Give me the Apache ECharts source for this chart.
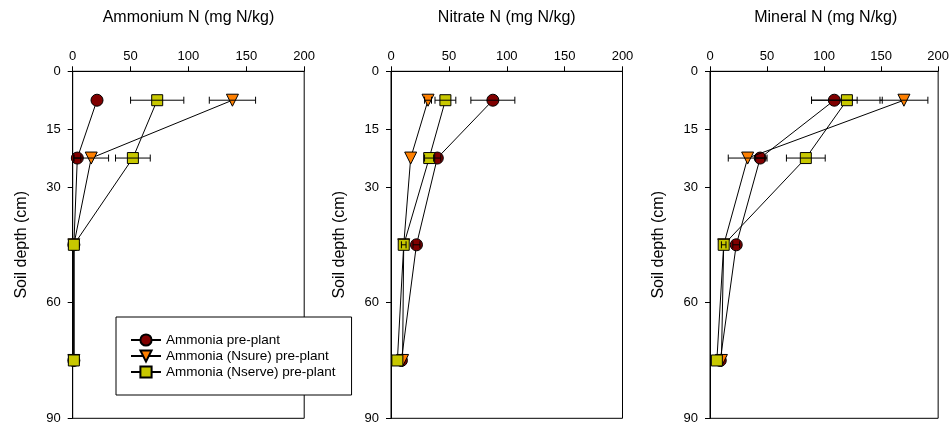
<!DOCTYPE html>
<html>
<head>
<meta charset="utf-8">
<script src="https://cdn.jsdelivr.net/npm/echarts@6/dist/echarts.min.js"></script>
<style>
html,body{margin:0;padding:0;background:#fff;}
#chart{width:952px;height:425px;}
</style>
</head>
<body>
<div id="chart"></div>
<script>
// ---- data ----
const depths = [7.5, 22.5, 45, 75];
const yTicks = [0, 15, 30, 60, 90];
const xTicks = [0, 50, 100, 150, 200];
const panelTitles = ['Ammonium N (mg N/kg)', 'Nitrate N (mg N/kg)', 'Mineral N (mg N/kg)'];
const seriesNames = ['Ammonia pre-plant', 'Ammonia (Nsure) pre-plant', 'Ammonia (Nserve) pre-plant'];

// Ammonium N
const ammPre = [21, 4, 1, 1];
const ammPreSE = [0, 3, 0, 0];
const ammNsure = [138, 16, 1, 1];
const ammNsureSE = [20, 15, 0, 0];
const ammNserve = [73, 52, 1, 1];
const ammNserveSE = [23, 15, 0, 0];

// Nitrate N
const nitPre = [88, 40, 22, 9];
const nitPreSE = [19, 3, 3, 0];
const nitNsure = [32, 17, 11, 10];
const nitNsureSE = [3, 0, 0, 0];
const nitNserve = [47, 33, 11, 5.5];
const nitNserveSE = [9, 4, 2, 0];

// Mineral N
const minPre = [109, 44, 23, 9];
const minPreSE = [20, 4, 3, 0];
const minNsure = [170, 33, 12, 10];
const minNsureSE = [21, 17, 0, 0];
const minNserve = [120, 84, 12, 6];
const minNserveSE = [31, 17, 2, 0];

// ---- styling ----
const FONT = '"Liberation Sans", Arial, Helvetica, sans-serif';
const panelLefts = [72.7, 391, 710];
const panelWidth = 231.5;
const panelTop = 71.3;
const panelHeight = 347;

const markerStyles = [
  {symbol: 'circle', symbolSize: 12, symbolRotate: 0, color: '#800000'},
  {symbol: 'triangle', symbolSize: 12, symbolRotate: 180, color: '#ff8000'},
  {symbol: 'rect', symbolSize: 11, symbolRotate: 0, color: '#c8c800'}
];

const panels = [
  [[ammPre, ammPreSE], [ammNsure, ammNsureSE], [ammNserve, ammNserveSE]],
  [[nitPre, nitPreSE], [nitNsure, nitNsureSE], [nitNserve, nitNserveSE]],
  [[minPre, minPreSE], [minNsure, minNsureSE], [minNserve, minNserveSE]]
];

function renderErr(params, api) {
  const x = api.value(0), y = api.value(1), e = api.value(2);
  if (!e) return null;
  const p1 = api.coord([x - e, y]);
  const p2 = api.coord([x + e, y]);
  const h = 3.5;
  const st = {stroke: '#000', lineWidth: 1};
  return {
    type: 'group',
    children: [
      {type: 'line', shape: {x1: p1[0], y1: p1[1], x2: p2[0], y2: p2[1]}, style: st},
      {type: 'line', shape: {x1: p1[0], y1: p1[1] - h, x2: p1[0], y2: p1[1] + h}, style: st},
      {type: 'line', shape: {x1: p2[0], y1: p2[1] - h, x2: p2[0], y2: p2[1] + h}, style: st}
    ]
  };
}

const grid = [], xAxis = [], yAxis = [], series = [], title = [];
panels.forEach((panel, i) => {
  grid.push({
    left: panelLefts[i], top: panelTop, width: panelWidth, height: panelHeight,
    show: true, borderColor: '#000', borderWidth: 1, backgroundColor: 'transparent'
  });
  title.push({
    text: panelTitles[i],
    left: panelLefts[i] + panelWidth / 2, top: 10, padding: 0,
    textAlign: 'center',
    textStyle: {fontFamily: FONT, fontSize: 16, fontWeight: 'normal', color: '#000'}
  });
  xAxis.push({
    gridIndex: i, type: 'value', position: 'top', min: 0, max: 200, interval: 50,
    axisLine: {show: true, lineStyle: {color: '#000', width: 1}},
    axisTick: {show: true, length: 5, inside: false, lineStyle: {color: '#000'}},
    axisLabel: {show: true, margin: 8, fontFamily: FONT, fontSize: 13, color: '#000',
      customValues: xTicks},
    splitLine: {show: false}
  });
  yAxis.push({
    gridIndex: i, type: 'value', inverse: true, min: 0, max: 90,
    name: 'Soil depth (cm)', nameLocation: 'middle', nameGap: 43,
    nameTextStyle: {fontFamily: FONT, fontSize: 16, color: '#000'},
    axisLine: {show: true, lineStyle: {color: '#000', width: 1}},
    axisTick: {show: true, length: 5, inside: false, customValues: yTicks, lineStyle: {color: '#000'}},
    axisLabel: {show: true, margin: 12, fontFamily: FONT, fontSize: 13, color: '#000',
      customValues: yTicks},
    splitLine: {show: false}
  });
  panel.forEach((pair, k) => {
    const vals = pair[0];
    const m = markerStyles[k];
    series.push({
      name: seriesNames[k], type: 'line', xAxisIndex: i, yAxisIndex: i,
      data: vals.map((v, j) => [v, depths[j]]),
      symbol: m.symbol, symbolSize: m.symbolSize, symbolRotate: m.symbolRotate,
      showAllSymbol: true,
      lineStyle: {color: '#000', width: 1},
      itemStyle: {color: m.color, borderColor: '#000', borderWidth: 1, opacity: 1},
      emphasis: {disabled: true},
      z: 2 + k * 0.1,
      animation: false
    });
  });
  panel.forEach((pair, k) => {
    const vals = pair[0], se = pair[1];
    series.push({
      type: 'custom', xAxisIndex: i, yAxisIndex: i,
      data: vals.map((v, j) => [v, depths[j], se[j]]),
      encode: {x: 0, y: 1},
      renderItem: renderErr,
      silent: true, z: 4, animation: false
    });
  });
});

const chart = echarts.init(document.getElementById('chart'), null, {renderer: 'canvas'});
chart.setOption({
  backgroundColor: '#fff',
  animation: false,
  title: title,
  grid: grid,
  xAxis: xAxis,
  yAxis: yAxis,
  legend: {
    data: seriesNames,
    orient: 'vertical',
    left: 116, top: 317,
    padding: [16, 16, 16, 14],
    width: 232,
    itemWidth: 30, itemHeight: 14, itemGap: 2,
    borderColor: '#000', borderWidth: 1, backgroundColor: '#fff',
    symbolRotate: 'inherit',
    textStyle: {fontFamily: FONT, fontSize: 13.5, color: '#000', lineHeight: 14},
    selectedMode: false
  },
  series: series
});
</script>
</body>
</html>
